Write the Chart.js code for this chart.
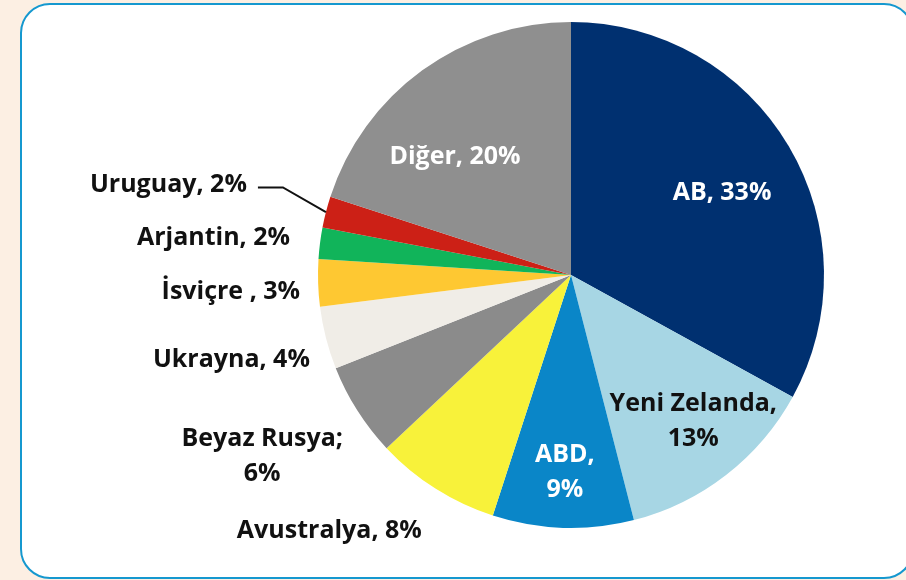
<!DOCTYPE html>
<html>
<head>
<meta charset="utf-8">
<script src="https://cdn.jsdelivr.net/npm/chart.js@4"></script>
<style>
  html, body { margin: 0; padding: 0; }
  body { width: 906px; height: 580px; background: #fcefe3; position: relative; overflow: hidden; }
  .box { position: absolute; left: 20px; top: 3px; width: 890px; height: 572px;
         border: 2.5px solid #1598cf; border-radius: 30px; background: #fff; }
  canvas { position: absolute; left: 0; top: 0; }
</style>
</head>
<body>
<div class="box"></div>
<canvas id="c" width="906" height="580"></canvas>
<script>
const labels = ['AB', 'Yeni Zelanda', 'ABD', 'Avustralya', 'Beyaz Rusya', 'Ukrayna', 'İsviçre', 'Arjantin', 'Uruguay', 'Diğer'];
const shares = [33, 13, 9, 8, 6, 4, 3, 2, 2, 20];
const separators = [', ', ',\n', ',\n', ', ', ';\n', ', ', ' , ', ', ', ', ', ', '];
const colors = ['#003070', '#a7d6e4', '#0a86c8', '#f8f23a', '#8b8b8b', '#f0ede7', '#fec832', '#11b45a', '#cc2016', '#8f8f8f'];

// label placement: radius factor, angle offset from slice middle (deg), alignment, colour
const place = [
  { r: 0.68, da: 2, align: 'center', color: '#fff' },
  { r: 0.755, da: -2, align: 'center', color: '#111' },
  { r: 0.78, da: 0, align: 'center', color: '#fff' },
  { r: 1.39, da: 11, align: 'center', color: '#111' },
  { r: 1.415, da: 2, align: 'center', color: '#111' },
  { r: 1.085, da: -3.6, align: 'right', color: '#111' },
  { r: 1.073, da: -1.8, align: 'right', color: '#111' },
  { r: 1.12, da: 0.3, align: 'right', color: '#111' },
  { r: 1.33, da: 1.6, align: 'right', color: '#111', leader: true },
  { r: 0.654, da: -8.5, align: 'center', color: '#fff' }
];

const pieLabels = {
  id: 'pieLabels',
  afterDatasetsDraw(chart) {
    const ctx = chart.ctx;
    const arcs = chart.getDatasetMeta(0).data;
    ctx.save();
    ctx.font = 'bold 25px "Open Sans", Lato, sans-serif';
    ctx.textBaseline = 'middle';
    arcs.forEach((arc, i) => {
      const p = place[i];
      const mid = (arc.startAngle + arc.endAngle) / 2;
      const R = arc.outerRadius;
      const pt = (f, d) => {
        const a = mid + d * Math.PI / 180;
        return { x: arc.x + Math.cos(a) * R * f, y: arc.y + Math.sin(a) * R * f };
      };
      let pos = pt(p.r, p.da);
      if (p.leader) {
        const s = pt(1.0, 0);
        const e = pt(1.19, 2.5);
        ctx.strokeStyle = '#111';
        ctx.lineWidth = 2;
        ctx.beginPath();
        ctx.moveTo(s.x, s.y);
        ctx.lineTo(e.x, e.y);
        ctx.lineTo(e.x - 25, e.y);
        ctx.stroke();
        pos = { x: e.x - 36, y: e.y - 3 };
      }
      const text = (labels[i] + separators[i] + shares[i] + '%').split('\n');
      ctx.fillStyle = p.color;
      ctx.textAlign = p.align;
      const lh = 35;
      text.forEach((line, k) => {
        ctx.fillText(line, pos.x, pos.y + (k - (text.length - 1) / 2) * lh);
      });
    });
    ctx.restore();
  }
};

new Chart(document.getElementById('c'), {
  type: 'pie',
  data: {
    labels: labels,
    datasets: [{ data: shares, backgroundColor: colors, borderWidth: 0 }]
  },
  options: {
    responsive: false,
    animation: false,
    layout: { padding: { left: 318, right: 82, top: 22, bottom: 52 } },
    plugins: { legend: { display: false }, tooltip: { enabled: false } }
  },
  plugins: [pieLabels]
});
</script>
</body>
</html>
